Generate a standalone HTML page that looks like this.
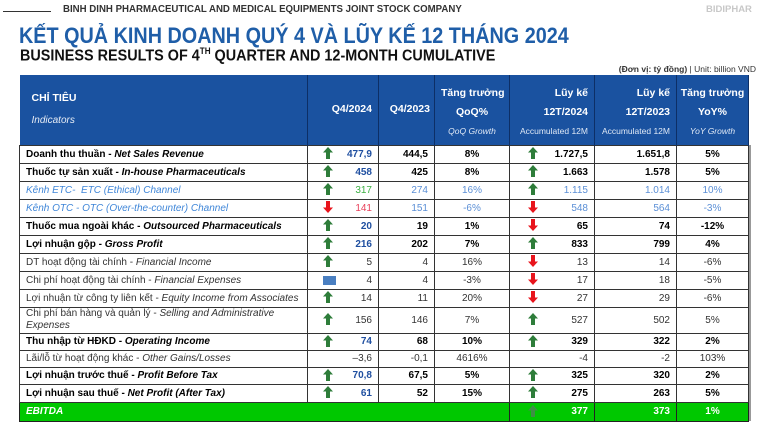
<!DOCTYPE html>
<html><head><meta charset="utf-8">
<style>
*{margin:0;padding:0;box-sizing:border-box}
body{width:766px;height:423px;background:#fff;position:relative;overflow:hidden;font-family:"Liberation Sans","Noto Sans CJK SC",sans-serif}
.abs{position:absolute;white-space:nowrap}
table{position:absolute;left:19px;top:75px;border-collapse:collapse;table-layout:fixed;width:729px;font-size:10px}
td{border:1px solid #333;padding:0 6px;white-space:nowrap;overflow:hidden;position:relative;text-align:right;line-height:11px}
td.l{text-align:left}
td.c{text-align:center}
thead td{background:#1a52a0;color:#fff;font-weight:bold;border:none;border-right:1px solid #0d2f66;font-size:10.5px;line-height:21px}
thead td small{font-weight:normal;font-style:italic;font-size:8.5px;color:#dfe8f5}
tr.b td{font-weight:bold}
tr.b td.v{color:#1f4fa0}
.it{font-style:italic}
.lb{color:#3f86d8;font-style:italic}
.ar{position:absolute;left:15px;top:50%;margin-top:-7px;width:10px;height:12px}
.ar2{left:18px}
tr.eb td{background:#00c800;color:#fff;font-weight:bold;border-color:#222}
</style></head><body>
<div class="abs" style="left:3px;top:11px;width:48px;height:1px;background:#333"></div>
<div class="abs" style="left:63px;top:3px;font-size:10.5px;font-weight:bold;color:#333;transform:scaleX(0.92);transform-origin:left">BINH DINH PHARMACEUTICAL AND MEDICAL EQUIPMENTS JOINT STOCK COMPANY</div>
<div class="abs" style="left:706px;top:4px;font-size:9.5px;font-weight:bold;color:#c8c8c8">BIDIPHAR</div>
<div class="abs" style="left:19px;top:23px;font-size:22px;font-weight:bold;color:#1f5ea8;transform:scaleX(0.9);transform-origin:left">KẾT QUẢ KINH DOANH QUÝ 4 VÀ LŨY KẾ 12 THÁNG 2024</div>
<div class="abs" style="left:20px;top:46px;font-size:16px;font-weight:bold;color:#111;transform:scaleX(0.9);transform-origin:left">BUSINESS RESULTS OF 4<sup style="font-size:9px">TH</sup> QUARTER AND 12-MONTH CUMULATIVE</div>
<div class="abs" style="right:10px;top:64px;font-size:8.5px;color:#333"><b>(Đơn vị: tỷ đồng)</b> | Unit: billion VND</div>

<svg width="0" height="0" style="position:absolute"><defs>
<symbol id="up" viewBox="0 0 10 12"><polygon points="5,0 10,5.5 7,5.5 7,12 3,12 3,5.5 0,5.5" fill="#2e7d3a"/></symbol>
<symbol id="dn" viewBox="0 0 10 12"><polygon points="5,12 10,6.5 7,6.5 7,0 3,0 3,6.5 0,6.5" fill="#e8141c"/></symbol>
<symbol id="upg" viewBox="0 0 10 12"><polygon points="5,0 10,5.5 7,5.5 7,12 3,12 3,5.5 0,5.5" fill="#3e8f45"/></symbol>
</defs></svg>

<table>
<colgroup><col style="width:288px"><col style="width:71px"><col style="width:56px"><col style="width:75px"><col style="width:85px"><col style="width:82px"><col style="width:72px"></colgroup>
<thead><tr style="height:70px">
<td class="l" style="padding-left:12px;line-height:22px">CHỈ TIÊU<br><small style="font-size:10px;color:#e6ecf5">Indicators</small></td>
<td>Q4/2024</td>
<td style="padding:0 4px">Q4/2023</td>
<td class="c" style="line-height:19px;padding-top:6px">Tăng trưởng<br>QoQ%<br><small>QoQ Growth</small></td>
<td style="line-height:19px;padding-top:6px">Lũy kế<br>12T/2024<br><small style="font-style:normal">Accumulated 12M</small></td>
<td style="line-height:19px;padding-top:6px">Lũy kế<br>12T/2023<br><small style="font-style:normal">Accumulated 12M</small></td>
<td class="c" style="line-height:19px;padding:6px 0 0">Tăng trưởng<br>YoY%<br><small>YoY Growth</small></td>
</tr></thead>
<tbody>
<tr class="b" style="height:18px"><td class="l">Doanh thu thuần - <span class="it">Net Sales Revenue</span></td><td class="v"><svg class="ar"><use href="#up"/></svg>477,9</td><td>444,5</td><td class="c">8%</td><td><svg class="ar ar2"><use href="#up"/></svg>1.727,5</td><td>1.651,8</td><td class="c">5%</td></tr>
<tr class="b" style="height:18px"><td class="l">Thuốc tự sản xuất - <span class="it">In-house Pharmaceuticals</span></td><td class="v"><svg class="ar"><use href="#up"/></svg>458</td><td>425</td><td class="c">8%</td><td><svg class="ar ar2"><use href="#up"/></svg>1.663</td><td>1.578</td><td class="c">5%</td></tr>
<tr style="height:18px;color:#5b8fd6"><td class="l lb">Kênh ETC-&nbsp; ETC (Ethical) Channel</td><td style="color:#3cb043"><svg class="ar"><use href="#up"/></svg>317</td><td>274</td><td class="c">16%</td><td><svg class="ar ar2"><use href="#up"/></svg>1.115</td><td>1.014</td><td class="c">10%</td></tr>
<tr style="height:18px;color:#5b8fd6"><td class="l lb">Kênh OTC - OTC (Over-the-counter) Channel</td><td style="color:#e8405a"><svg class="ar"><use href="#dn"/></svg>141</td><td>151</td><td class="c">-6%</td><td><svg class="ar ar2"><use href="#dn"/></svg>548</td><td>564</td><td class="c">-3%</td></tr>
<tr class="b" style="height:18px"><td class="l">Thuốc mua ngoài khác - <span class="it">Outsourced Pharmaceuticals</span></td><td class="v"><svg class="ar"><use href="#up"/></svg>20</td><td>19</td><td class="c">1%</td><td><svg class="ar ar2"><use href="#dn"/></svg>65</td><td>74</td><td class="c">-12%</td></tr>
<tr class="b" style="height:18px"><td class="l">Lợi nhuận gộp - <span class="it">Gross Profit</span></td><td class="v"><svg class="ar"><use href="#up"/></svg>216</td><td>202</td><td class="c">7%</td><td><svg class="ar ar2"><use href="#up"/></svg>833</td><td>799</td><td class="c">4%</td></tr>
<tr style="height:18px;color:#333"><td class="l">DT hoạt động tài chính - <span class="it">Financial Income</span></td><td><svg class="ar"><use href="#up"/></svg>5</td><td>4</td><td class="c">16%</td><td><svg class="ar ar2"><use href="#dn"/></svg>13</td><td>14</td><td class="c">-6%</td></tr>
<tr style="height:18px;color:#333"><td class="l">Chi phí hoạt động tài chính - <span class="it">Financial Expenses</span></td><td><span style="position:absolute;left:15px;top:4px;width:13px;height:9px;background:#4a7fc1"></span>4</td><td>4</td><td class="c">-3%</td><td><svg class="ar ar2"><use href="#dn"/></svg>17</td><td>18</td><td class="c">-5%</td></tr>
<tr style="height:18px;color:#333"><td class="l">Lợi nhuận từ công ty liên kết - <span class="it">Equity Income from Associates</span></td><td><svg class="ar"><use href="#up"/></svg>14</td><td>11</td><td class="c">20%</td><td><svg class="ar ar2"><use href="#dn"/></svg>27</td><td>29</td><td class="c">-6%</td></tr>
<tr style="height:26px;color:#333"><td class="l" style="white-space:normal;line-height:12px">Chi phí bán hàng và quản lý - <span class="it">Selling and Administrative Expenses</span></td><td><svg class="ar"><use href="#up"/></svg>156</td><td>146</td><td class="c">7%</td><td><svg class="ar ar2"><use href="#up"/></svg>527</td><td>502</td><td class="c">5%</td></tr>
<tr class="b" style="height:17px"><td class="l">Thu nhập từ HĐKD - <span class="it">Operating Income</span></td><td class="v"><svg class="ar"><use href="#up"/></svg>74</td><td>68</td><td class="c">10%</td><td><svg class="ar ar2"><use href="#up"/></svg>329</td><td>322</td><td class="c">2%</td></tr>
<tr style="height:17px;color:#333"><td class="l">Lãi/lỗ từ hoạt động khác - <span class="it">Other Gains/Losses</span></td><td>–3,6</td><td>-0,1</td><td class="c">4616%</td><td>-4</td><td>-2</td><td class="c">103%</td></tr>
<tr class="b" style="height:17px"><td class="l">Lợi nhuận trước thuế - <span class="it">Profit Before Tax</span></td><td class="v"><svg class="ar"><use href="#up"/></svg>70,8</td><td>67,5</td><td class="c">5%</td><td><svg class="ar ar2"><use href="#up"/></svg>325</td><td>320</td><td class="c">2%</td></tr>
<tr class="b" style="height:18px"><td class="l">Lợi nhuận sau thuế - <span class="it">Net Profit (After Tax)</span></td><td class="v"><svg class="ar"><use href="#up"/></svg>61</td><td>52</td><td class="c">15%</td><td><svg class="ar ar2"><use href="#up"/></svg>275</td><td>263</td><td class="c">5%</td></tr>
<tr class="eb" style="height:19px"><td class="l it" colspan="4">EBITDA</td><td><svg class="ar ar2"><use href="#upg"/></svg>377</td><td>373</td><td class="c">1%</td></tr>
</tbody></table>
<div class="abs" style="left:749px;top:145px;width:2px;height:276px;background:#999"></div>
</body></html>
